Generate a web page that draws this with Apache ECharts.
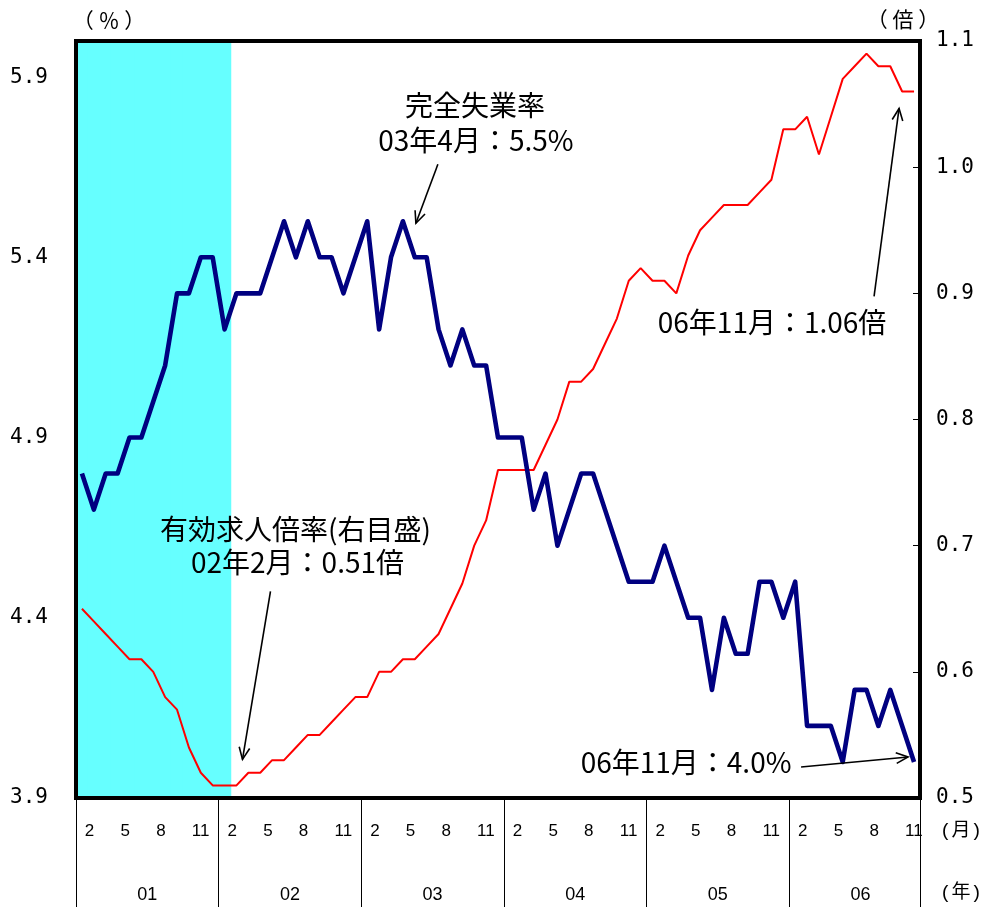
<!DOCTYPE html>
<html>
<head>
<meta charset="utf-8">
<script src="https://cdn.jsdelivr.net/npm/echarts@6/dist/echarts.min.js"></script>
<style>
  html, body { margin: 0; padding: 0; background: #fff; }
  #chart { width: 984px; height: 907px; }
</style>
</head>
<body>
<div id="chart"></div>
<script>
// Years on the axis and how many months each one covers (2006 ends in November)
const yearLabels = ['01', '02', '03', '04', '05', '06'];
const monthsPerYear = [12, 12, 12, 12, 12, 11];
const labelledMonths = [2, 5, 8, 11];

// 完全失業率 (%, left scale), Jan 2001 – Nov 2006
const unemployment = [
  4.8, 4.7, 4.8, 4.8, 4.9, 4.9, 5.0, 5.1, 5.3, 5.3, 5.4, 5.4,
  5.2, 5.3, 5.3, 5.3, 5.4, 5.5, 5.4, 5.5, 5.4, 5.4, 5.3, 5.4,
  5.5, 5.2, 5.4, 5.5, 5.4, 5.4, 5.2, 5.1, 5.2, 5.1, 5.1, 4.9,
  4.9, 4.9, 4.7, 4.8, 4.6, 4.7, 4.8, 4.8, 4.7, 4.6, 4.5, 4.5,
  4.5, 4.6, 4.5, 4.4, 4.4, 4.2, 4.4, 4.3, 4.3, 4.5, 4.5, 4.4,
  4.5, 4.1, 4.1, 4.1, 4.0, 4.2, 4.2, 4.1, 4.2, 4.1, 4.0
];

// 有効求人倍率 (倍, right scale), Jan 2001 – Nov 2006
const jobRatio = [
  0.65, 0.64, 0.63, 0.62, 0.61, 0.61, 0.60, 0.58, 0.57, 0.54, 0.52, 0.51,
  0.51, 0.51, 0.52, 0.52, 0.53, 0.53, 0.54, 0.55, 0.55, 0.56, 0.57, 0.58,
  0.58, 0.60, 0.60, 0.61, 0.61, 0.62, 0.63, 0.65, 0.67, 0.70, 0.72, 0.76,
  0.76, 0.76, 0.76, 0.78, 0.80, 0.83, 0.83, 0.84, 0.86, 0.88, 0.91, 0.92,
  0.91, 0.91, 0.90, 0.93, 0.95, 0.96, 0.97, 0.97, 0.97, 0.98, 0.99, 1.03,
  1.03, 1.04, 1.01, 1.04, 1.07, 1.08, 1.09, 1.08, 1.08, 1.06, 1.06
];

// Tick labels of both value scales
const leftTicks = [3.9, 4.4, 4.9, 5.4, 5.9];
const rightTicks = [0.5, 0.6, 0.7, 0.8, 0.9, 1.0, 1.1];

// Unit captions around the plot
const unitLeft = '（ ％ ）';
const unitRight = '（ 倍 ）';
const unitMonth = '(月)';
const unitYear = '(年)';

// Shaded period (first and last month, inclusive)
const shadedFrom = '01/1';
const shadedTo = '02/1';

// Call-outs: which point each one refers to and its text lines
const callouts = [
  { series: 'unemployment', at: '03/4', value: 5.5, lines: ['完全失業率', '03年4月：5.5%'] },
  { series: 'ratio', at: '02/2', value: 0.51, lines: ['有効求人倍率(右目盛)', '02年2月：0.51倍'] },
  { series: 'ratio', at: '06/11', value: 1.06, lines: ['06年11月：1.06倍'] },
  { series: 'unemployment', at: '06/11', value: 4.0, lines: ['06年11月：4.0%'] }
];

// ---- build categories "yy/m" ----
const categories = [];
yearLabels.forEach((y, i) => {
  for (let m = 1; m <= monthsPerYear[i]; m++) categories.push(y + '/' + m);
});
const monthOf = v => Number(String(v).split('/')[1]);
const yearOf = v => String(v).split('/')[0];

const iFrom = categories.indexOf(shadedFrom);
const iTo = categories.indexOf(shadedTo);
const shadeData = categories.map((c, i) => (i >= iFrom && i <= iTo ? 1 : '-'));

const monoFont = "'DejaVu Sans Mono', 'Liberation Mono', monospace";
const cjkFont = "'Noto Sans CJK JP', 'Noto Sans', sans-serif";
const sansFont = "'Liberation Sans', Arial, sans-serif";

const chart = echarts.init(document.getElementById('chart'), null, { renderer: 'canvas' });

const option = {
  animation: false,
  backgroundColor: '#ffffff',
  grid: {
    left: 76, right: 64, top: 41, bottom: 109,
    show: true, borderColor: '#000', borderWidth: 4,
    backgroundColor: 'transparent', z: 10,
    containLabel: false, outerBoundsMode: 'none'
  },
  xAxis: [
    {
      type: 'category', data: categories, boundaryGap: true, position: 'bottom',
      axisLine: { show: false },
      axisTick: {
        show: true, inside: false, length: 109,
        interval: (i) => i % 12 === 0,
        lineStyle: { color: '#000', width: 1 }
      },
      axisLabel: {
        interval: (i, v) => labelledMonths.includes(monthOf(v)),
        formatter: v => String(monthOf(v)),
        fontFamily: sansFont, fontSize: 17, color: '#000',
        margin: 25, align: 'left', padding: [0, 0, 0, -9]
      },
      splitLine: { show: false }
    },
    {
      type: 'category', data: categories, boundaryGap: true, position: 'bottom',
      axisLine: { show: false }, axisTick: { show: false },
      axisLabel: {
        interval: (i, v) => monthOf(v) === 7,
        formatter: v => yearOf(v),
        fontFamily: sansFont, fontSize: 18, color: '#000',
        margin: 88, padding: [0, 12, 0, 0]
      },
      splitLine: { show: false }
    }
  ],
  yAxis: [
    {
      type: 'value', position: 'left', min: 3.9, max: 6.0,
      axisLine: { show: false }, splitLine: { show: false },
      axisTick: { show: true, inside: true, length: 7, customValues: leftTicks, lineStyle: { color: '#000' } },
      axisLabel: { customValues: leftTicks, formatter: v => v.toFixed(1), margin: 28, fontFamily: monoFont, fontSize: 21, color: '#000' }
    },
    {
      type: 'value', position: 'right', min: 0.5, max: 1.1,
      axisLine: { show: false }, splitLine: { show: false },
      axisTick: { show: true, inside: true, length: 7, customValues: rightTicks, lineStyle: { color: '#000' } },
      axisLabel: { customValues: rightTicks, formatter: v => v.toFixed(1), margin: 16, fontFamily: monoFont, fontSize: 21, color: '#000' }
    },
    { type: 'value', min: 0, max: 1, show: false }
  ],
  series: [
    {
      // slightly overlapping bars so the shaded band has no seams
      id: 'shade', type: 'bar', xAxisIndex: 0, yAxisIndex: 2, data: shadeData,
      barWidth: '112%', barGap: '0%', z: 1, silent: true,
      itemStyle: { color: '#66FFFF' }
    },
    {
      id: 'ratio', type: 'line', xAxisIndex: 0, yAxisIndex: 1, data: jobRatio,
      symbol: 'none', smooth: false, z: 2,
      lineStyle: { color: '#FF0000', width: 2 }
    },
    {
      id: 'unemployment', type: 'line', xAxisIndex: 0, yAxisIndex: 0, data: unemployment,
      symbol: 'none', smooth: false, z: 3,
      lineStyle: { color: '#000080', width: 4.6, join: 'round' }
    }
  ]
};

chart.setOption(option);

// Placement of each call-out relative to its point: text centres, arrow tail, arrow tip
const calloutLayout = [
  { text: [[72, -116], [73, -81]], tail: [35, -57], tip: [13, 2] },
  { text: [[59, -256], [61, -223]], tail: [34, -194], tip: [6, -26] },
  { text: [[-142, 231]], tail: [-40, 205], tip: [-15, 17] },
  { text: [[-228, 0]], tail: [-113, 5], tip: [-6, -5] }
];

const graphics = [];

// Unit captions: above both value scales, right of the month and year rows
const unitText = (t, x, y, font, size) => ({
  type: 'text', x, y, z: 20,
  style: { text: t, fontFamily: font, fontSize: size, fill: '#000', align: 'center', verticalAlign: 'middle' }
});
graphics.push(unitText(unitLeft, 109, 20, cjkFont, 21));
graphics.push(unitText(unitRight, 903, 19, cjkFont, 21));
graphics.push(unitText(unitMonth, 961, 831, "'Liberation Mono', 'Noto Sans CJK JP'", 19));
graphics.push(unitText(unitYear, 961, 893, "'Liberation Mono', 'Noto Sans CJK JP'", 19));

callouts.forEach((c, k) => {
  const L = calloutLayout[k];
  const p = chart.convertToPixel({ seriesId: c.series }, [c.at, c.value]);
  c.lines.forEach((t, j) => {
    graphics.push({
      type: 'text', x: p[0] + L.text[j][0], y: p[1] + L.text[j][1], z: 20,
      style: { text: t, fontFamily: cjkFont, fontSize: 28, fill: '#000', align: 'center', verticalAlign: 'middle' }
    });
  });
  const tx = p[0] + L.tail[0], ty = p[1] + L.tail[1];
  const hx = p[0] + L.tip[0], hy = p[1] + L.tip[1];
  const ang = Math.atan2(hy - ty, hx - tx);
  const wing = 13, spread = 0.42;
  const w1 = [hx - wing * Math.cos(ang - spread), hy - wing * Math.sin(ang - spread)];
  const w2 = [hx - wing * Math.cos(ang + spread), hy - wing * Math.sin(ang + spread)];
  graphics.push({ type: 'polyline', z: 20, shape: { points: [[tx, ty], [hx, hy]] }, style: { stroke: '#000', lineWidth: 1.6, fill: null } });
  graphics.push({ type: 'polyline', z: 20, shape: { points: [w1, [hx, hy], w2] }, style: { stroke: '#000', lineWidth: 1.6, fill: null } });
});
chart.setOption({ graphic: graphics });
</script>
</body>
</html>
